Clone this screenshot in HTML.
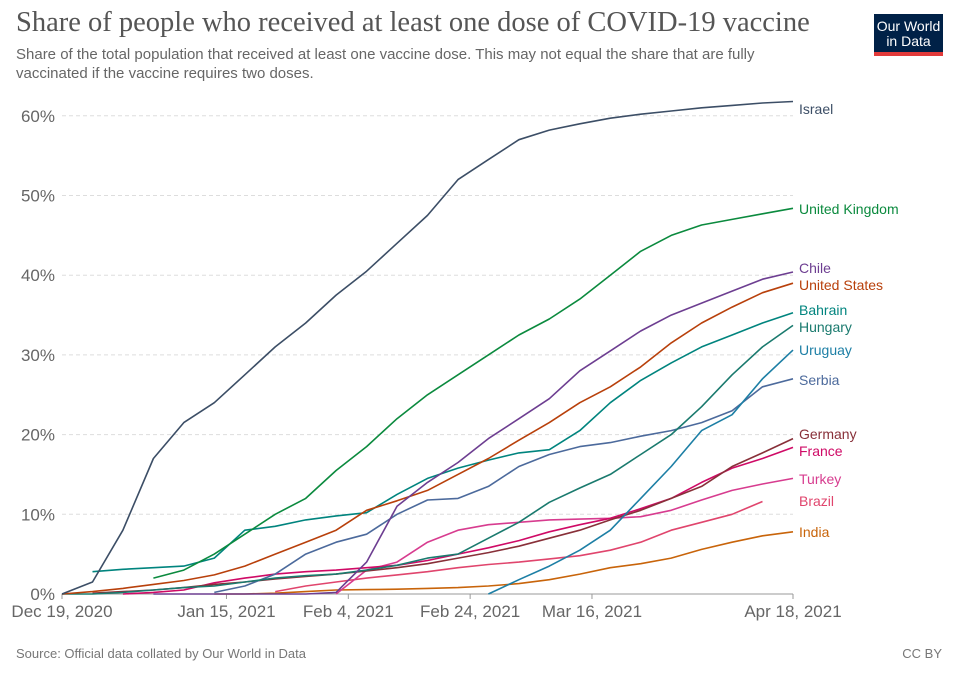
<!DOCTYPE html>
<html><head><meta charset="utf-8"><style>
body{margin:0;background:#fff;width:960px;height:678px;overflow:hidden;font-family:"Liberation Sans",sans-serif}
#title{position:absolute;left:16px;top:7px;font-family:"Liberation Serif",serif;font-size:28.5px;color:#555;margin:0;font-weight:normal}
#sub{position:absolute;left:16px;top:45px;font-size:15px;color:#666;line-height:19px;width:810px}
#logo{position:absolute;left:874px;top:14px;width:69px;background:#002147;border-bottom:4px solid #e23a3a;color:#fff;font-size:14px;line-height:15px;text-align:center;padding-top:5px;box-sizing:content-box;height:33px}
#src{position:absolute;left:16px;top:646px;font-size:13px;color:#777}
#cc{position:absolute;right:18px;top:646px;font-size:13px;color:#777}
svg{position:absolute;left:0;top:0}
</style></head><body>
<h1 id="title">Share of people who received at least one dose of COVID-19 vaccine</h1>
<div id="sub">Share of the total population that received at least one vaccine dose. This may not equal the share that are fully vaccinated if the vaccine requires two doses.</div>
<div id="logo">Our World<br>in Data</div>
<svg id="chart" width="960" height="678"></svg>
<div id="src">Source: Official data collated by Our World in Data</div>
<div id="cc">CC BY</div>
<script>
const days=[0,5,10,15,20,25,30,35,40,45,50,55,60,65,70,75,80,85,90,95,100,105,110,115,120];
const yTicks=[0,10,20,30,40,50,60];
const xTickDays=[0,27,47,67,87,120];
const xTickLabels=["Dec 19, 2020","Jan 15, 2021","Feb 4, 2021","Feb 24, 2021","Mar 16, 2021","Apr 18, 2021"];
const N=null;
const israel=[0,1.5,8,17,21.5,24,27.5,31,34,37.5,40.5,44,47.5,52,54.5,57,58.2,59,59.7,60.2,60.6,61,61.3,61.6,61.8];
const uk=[N,N,N,2,3,5,7.5,10,12,15.5,18.5,22,25,27.5,30,32.5,34.5,37,40,43,45,46.3,47,47.7,48.4];
const chile=[N,N,N,0,0,0,0,0,0,0.2,4,11,14,16.5,19.5,22,24.5,28,30.5,33,35,36.5,38,39.5,40.4];
const us=[0,0.3,0.7,1.2,1.7,2.4,3.5,5,6.5,8,10.5,11.7,13,15,17,19.3,21.5,24,26,28.5,31.5,34,36,37.8,39];
const bahrain=[N,2.8,3.1,3.3,3.5,4.5,8,8.5,9.3,9.8,10.2,12.5,14.5,15.8,16.8,17.7,18.1,20.5,24,26.8,29,31,32.5,34,35.3];
const hungary=[0,0,0.2,0.5,0.8,1,1.5,2,2.3,2.5,3,3.6,4.5,5,7,9,11.5,13.3,15,17.5,20,23.5,27.5,31,33.7];
const uruguay=[N,N,N,N,N,N,N,N,N,N,N,N,N,N,0,1.8,3.5,5.5,8,12,16,20.5,22.5,27,30.6];
const serbia=[N,N,N,N,N,0.2,1,2.5,5,6.5,7.5,10,11.8,12,13.5,16,17.5,18.5,19,19.8,20.5,21.5,23,26,27];
const germany=[N,0.1,0.3,0.5,0.8,1.2,1.5,1.9,2.2,2.5,2.9,3.3,3.8,4.5,5.2,6,7,8,9.3,10.5,12,13.5,16,17.7,19.5];
const france=[N,N,0,0.2,0.5,1.4,2,2.5,2.8,3,3.3,3.6,4.2,5,5.8,6.7,7.8,8.7,9.5,10.7,12,14,15.8,17,18.4];
const turkey=[N,N,N,N,N,N,N,N,N,0,3,4,6.5,8,8.7,9,9.3,9.4,9.5,9.7,10.5,11.8,13,13.8,14.5];
const brazil=[N,N,N,N,N,N,N,0.3,1,1.5,2,2.4,2.8,3.3,3.7,4,4.4,4.8,5.5,6.5,8,9,10,11.6,N];
const india=[N,N,N,N,N,0,0,0.1,0.3,0.5,0.55,0.6,0.7,0.8,1,1.3,1.8,2.5,3.3,3.8,4.5,5.6,6.5,7.3,7.8];
const seriesNames=["Israel","United Kingdom","Chile","United States","Bahrain","Hungary","Uruguay","Serbia","Germany","France","Turkey","Brazil","India"];
const seriesData=[israel,uk,chile,us,bahrain,hungary,uruguay,serbia,germany,france,turkey,brazil,india];
const colors=["#3c4e66","#0b8a3e","#6d3e91","#b8400b","#00847e","#1a7a6e","#1d7fa5","#4c6a9c","#883039","#cf0a66","#d73c8f","#e0456d","#c8640a"];
const labelY=[109,209,268,285,310,327,350,380,434,451,479,501,532];
const NS="http://www.w3.org/2000/svg";
const svg=document.getElementById('chart');
const x0=62,x1=793,y0=594,pxPer=7.97;
const xs=d=>x0+(x1-x0)*d/120;
const ys=v=>y0-v*pxPer;
function mk(t,a){const e=document.createElementNS(NS,t);for(const k in a)e.setAttribute(k,a[k]);svg.appendChild(e);return e;}
yTicks.forEach(v=>{
  const l=mk('line',{x1:x0,x2:x1,y1:ys(v),y2:ys(v),stroke:v?'#ddd':'#999','stroke-dasharray':v?'4,3':'none'});
  
  
  const t=mk('text',{x:55,y:ys(v)+6,'text-anchor':'end','font-size':17,fill:'#666'});
  t.textContent=v+'%';
  
  
});
xTickDays.forEach((d,i)=>{
  const tk=mk('line',{x1:xs(d),x2:xs(d),y1:y0,y2:y0+5,stroke:'#999'});
  
  
  const t=mk('text',{x:xs(d),y:617,'text-anchor':'middle','font-size':17,fill:'#666'});
  t.textContent=xTickLabels[i];
  
  
});
seriesData.slice().reverse().forEach((arr,ri)=>{
  const i=seriesData.length-1-ri;
  let d='';
  arr.forEach((v,j)=>{if(v===null)return;d+=(d?'L':'M')+xs(days[j]).toFixed(1)+','+ys(v).toFixed(1);});
  const p=mk('path',{d:d,fill:'none',stroke:colors[i],'stroke-width':1.6,'stroke-linejoin':'round'});
  
  
  const t=mk('text',{x:799,y:labelY[i]+5,'font-size':14,fill:colors[i]});
  t.textContent=seriesNames[i];
  
  
});
</script>
</body></html>
